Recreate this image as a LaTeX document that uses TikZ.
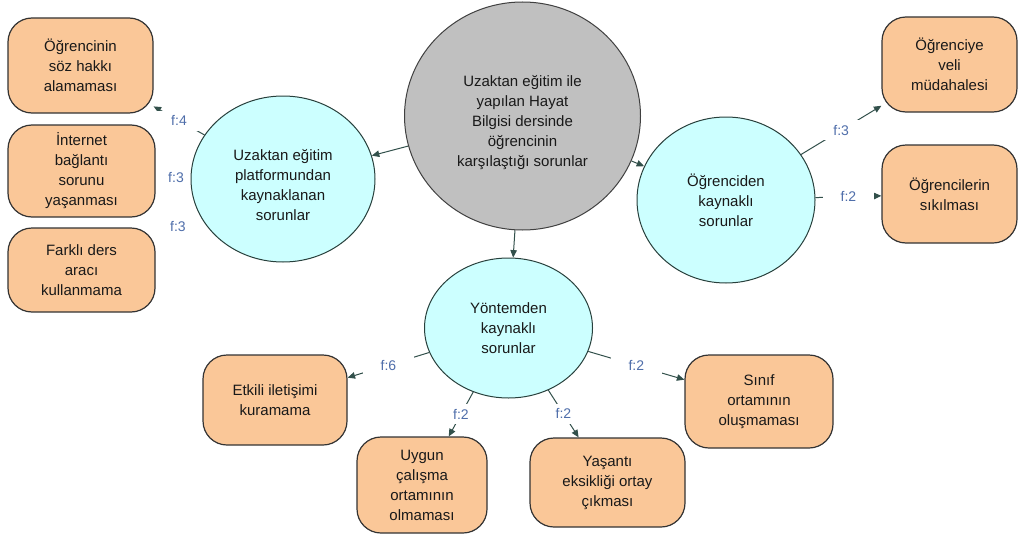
\documentclass[tikz,border=0pt]{standalone}
\usepackage{fontspec}
\setmainfont{Liberation Sans}
\usetikzlibrary{shapes.geometric,arrows.meta}
\pgfdeclarelayer{background}
\pgfsetlayers{background,main}
\definecolor{leafcol}{RGB}{250,199,152}
\definecolor{subcol}{RGB}{204,255,255}
\definecolor{maincol}{RGB}{192,192,192}
\definecolor{linecol}{RGB}{50,80,75}
\definecolor{labcol}{RGB}{79,110,170}
\begin{document}
\begin{tikzpicture}[x=1pt,y=-1pt,
  txt/.style={font=\fontsize{15}{20}\selectfont, align=center, text=black!90},
  mainnode/.style={txt, ellipse, draw=black!75, line width=1pt, fill=maincol, inner sep=0pt},
  subnode/.style={txt, ellipse, draw=linecol!80!black, line width=1pt, fill=subcol, inner sep=0pt},
  leaf/.style={txt, rectangle, rounded corners=24pt, draw=black!80, line width=1.2pt, fill=leafcol, inner sep=0pt},
  conn/.style={draw=linecol, line width=1pt, -{Triangle[length=7.5pt,width=6.5pt]}},
  lab/.style={fill=white, text=labcol, font=\fontsize{14}{16}\selectfont, inner xsep=18pt, inner ysep=5pt}
]
\useasboundingbox (0,0) rectangle (1019,535);

% central node
\node[mainnode, minimum width=236pt, minimum height=228pt] (c) at (522.5,116) {};
\node[txt] (ctext) at (522.5,123)
  {Uzaktan eğitim ile\\yapılan Hayat\\Bilgisi dersinde\\öğrencinin\\karşılaştığı sorunlar};

% sub nodes
\node[subnode, minimum width=184pt, minimum height=166pt] (l) at (283,179) {};
\node[txt] (ltext) at (283,185)
  {Uzaktan eğitim\\platformundan\\kaynaklanan\\sorunlar};
\node[subnode, minimum width=178pt, minimum height=166pt] (r) at (726,200)
  {Öğrenciden\\kaynaklı\\sorunlar};
\node[subnode, minimum width=168pt, minimum height=140pt] (b) at (508.5,328)
  {Yöntemden\\kaynaklı\\sorunlar};

% leaves
\node[leaf, minimum width=145pt, minimum height=95pt] (b1) at (80.5,65.5)
  {Öğrencinin\\söz hakkı\\alamaması};
\node[leaf, minimum width=147pt, minimum height=92pt] (b2) at (81.5,171)
  {İnternet\\bağlantı\\sorunu\\yaşanması};
\node[leaf, minimum width=147pt, minimum height=84pt] (b3) at (81.5,270)
  {Farklı ders\\aracı\\kullanmama};
\node[leaf, minimum width=135pt, minimum height=95pt] (b4) at (949.5,64.5)
  {Öğrenciye\\veli\\müdahalesi};
\node[leaf, minimum width=135pt, minimum height=98pt] (b5) at (949.5,194)
  {Öğrencilerin\\sıkılması};
\node[leaf, minimum width=144pt, minimum height=90pt] (b6) at (275,400)
  {Etkili iletişimi\\kuramama};
\node[leaf, minimum width=130pt, minimum height=96pt] (b7) at (422,485)
  {Uygun\\çalışma\\ortamının\\olmaması};
\node[leaf, minimum width=155pt, minimum height=89pt] (b8) at (607.5,482.5)
  {Yaşantı\\eksikliği ortay\\çıkması};
\node[leaf, minimum width=148pt, minimum height=93pt] (b9) at (759,401.5)
  {Sınıf\\ortamının\\oluşmaması};

\begin{pgfonlayer}{background}
\draw[conn] (c) -- (l);
\draw[conn] (c) -- (r);
\draw[conn] (c) -- (b);
\draw[conn] (l) -- node[lab] {f:4} (b1);
\draw[conn] (l) -- node[lab] {f:3} (b3);
\draw[conn] (r) -- node[lab] {f:3} (b4);
\draw[conn] (r) -- node[lab] {f:2} (b5);
\draw[conn] (b) -- node[lab] {f:6} (b6);
\draw[conn] (b) -- node[lab] {f:2} (b7);
\draw[conn] (b) -- node[lab] {f:2} (b8);
\draw[conn] (b) -- node[lab] {f:2} (b9);
\node[lab] (f2) at (176,178) {f:3};
\end{pgfonlayer}
\end{tikzpicture}
\end{document}
